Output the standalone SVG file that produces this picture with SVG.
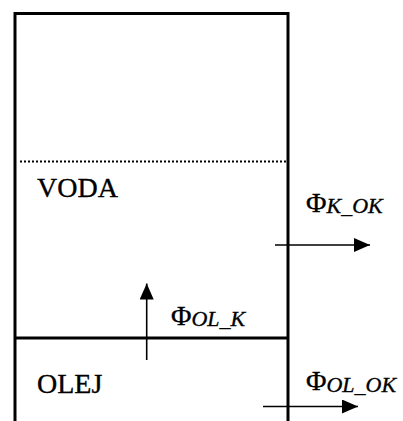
<svg xmlns="http://www.w3.org/2000/svg" width="403" height="421" viewBox="0 0 403 421">
<style>
text{font-family:'Liberation Serif','Times New Roman',serif;fill:#000;stroke:#000;stroke-width:0.35}
.t{font-size:28px}
.s{font-size:22px;font-style:italic}
.wall{stroke:#000;stroke-width:3;fill:none}
.arr{stroke:#000;stroke-width:1.6;fill:none;marker-end:url(#ah)}
</style>
<defs>
<marker id="ah" markerUnits="userSpaceOnUse" markerWidth="16" markerHeight="14" refX="16" refY="7" orient="auto">
<path d="M0,0 L16,7 L0,14 Z" fill="#000"/>
</marker>
</defs>
<g id="container">
<path class="wall" d="M15,421 V13.5 H288 V421"/>
<line x1="20" y1="161.5" x2="286" y2="161.5" stroke="#000" stroke-width="2" stroke-dasharray="2 2"/>
<line class="wall" x1="15" y1="338" x2="288" y2="338"/>
</g>
<g id="voda"><text class="t" x="37" y="197">VODA</text></g>
<g id="olej"><text class="t" x="37" y="393">OLEJ</text></g>
<g id="label-k-ok"><text class="t" x="306" y="212">Φ<tspan class="s" dy="1">K_OK</tspan></text></g>
<g id="label-ol-k"><text class="t" x="171" y="325">Φ<tspan class="s" dy="1">OL_K</tspan></text></g>
<g id="label-ol-ok"><text class="t" x="306" y="390">Φ<tspan class="s" dy="2">OL_OK</tspan></text></g>
<g id="connectors">
<line class="arr" x1="146.7" y1="360" x2="146.7" y2="283.5"/>
<line class="arr" x1="275" y1="245" x2="370" y2="245"/>
<line class="arr" x1="263" y1="406.5" x2="358" y2="406.5"/>
</g>
</svg>
